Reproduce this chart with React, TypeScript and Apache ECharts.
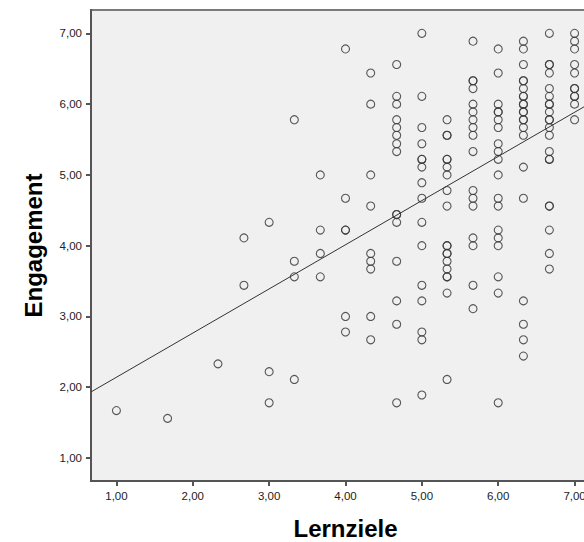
import React, { useEffect, useRef } from "react";
import * as echarts from "echarts";

// Lernziele levels (x) and the Engagement values (y) observed at each level
const lernzieleLevels = [1.0, 1.67, 2.33, 2.67, 3.0, 3.33, 3.67, 4.0, 4.33, 4.67, 5.0, 5.33, 5.67, 6.0, 6.33, 6.67, 7.0];

const engagementAt100 = [1.67];
const engagementAt167 = [1.56];
const engagementAt233 = [2.33];
const engagementAt267 = [4.11, 3.44];
const engagementAt300 = [4.33, 2.22, 1.78];
const engagementAt333 = [5.78, 3.78, 3.56, 2.11];
const engagementAt367 = [5.0, 4.22, 3.89, 3.56];
const engagementAt400 = [6.78, 4.67, 4.22, 4.22, 3.0, 2.78];
const engagementAt433 = [6.44, 6.0, 5.0, 4.56, 3.89, 3.78, 3.67, 3.0, 2.67];
const engagementAt467 = [6.56, 6.11, 6.0, 5.78, 5.67, 5.56, 5.44, 5.33, 4.44, 4.44, 4.33, 3.78, 3.22, 2.89, 1.78];
const engagementAt500 = [7.0, 6.11, 5.67, 5.44, 5.22, 5.22, 5.11, 4.89, 4.67, 4.33, 4.0, 3.44, 3.22, 2.78, 2.67, 1.89];
const engagementAt533 = [5.78, 5.56, 5.56, 5.22, 5.22, 5.11, 5.0, 4.78, 4.56, 4.0, 4.0, 3.89, 3.89, 3.78, 3.67, 3.56, 3.56, 3.33, 2.11];
const engagementAt567 = [6.89, 6.33, 6.33, 6.22, 6.0, 5.89, 5.78, 5.67, 5.56, 5.33, 4.78, 4.67, 4.56, 4.11, 4.0, 3.44, 3.11];
const engagementAt600 = [6.78, 6.44, 6.0, 5.89, 5.89, 5.78, 5.67, 5.44, 5.33, 5.22, 5.0, 4.67, 4.56, 4.22, 4.11, 4.0, 3.56, 3.33, 1.78];
const engagementAt633 = [6.89, 6.78, 6.56, 6.33, 6.33, 6.22, 6.11, 6.11, 6.0, 6.0, 5.89, 5.89, 5.78, 5.78, 5.67, 5.56, 5.11, 4.67, 3.22, 2.89, 2.67, 2.44];
const engagementAt667 = [7.0, 6.56, 6.56, 6.44, 6.22, 6.11, 6.0, 6.0, 5.89, 5.78, 5.78, 5.67, 5.56, 5.33, 5.22, 5.22, 4.56, 4.56, 4.22, 3.89, 3.67];
const engagementAt700 = [7.0, 6.89, 6.78, 6.56, 6.44, 6.22, 6.22, 6.11, 6.11, 6.0, 5.78];

const engagementByLevel = [
  engagementAt100, engagementAt167, engagementAt233, engagementAt267, engagementAt300,
  engagementAt333, engagementAt367, engagementAt400, engagementAt433, engagementAt467,
  engagementAt500, engagementAt533, engagementAt567, engagementAt600, engagementAt633,
  engagementAt667, engagementAt700,
];

// Linear fit line
const fitIntercept = 1.517;
const fitSlope = 0.624;

// Tick values
const xTicks = [1, 2, 3, 4, 5, 6, 7];
const yTicks = [1, 2, 3, 4, 5, 6, 7];

const xMin = 0.667;
const xMax = 7.333;
const yMin = 0.675;
const yMax = 7.33;

const fmt = (v: number) => v.toFixed(2).replace(".", ",");

export default function App() {
  const ref = useRef<HTMLDivElement>(null);

  useEffect(() => {
    if (!ref.current) return;
    const chart = echarts.init(ref.current, null, { renderer: "svg" });

    const points: number[][] = [];
    lernzieleLevels.forEach((x, i) => {
      engagementByLevel[i].forEach((y) => points.push([x, y]));
    });
    const fitLine = [
      [xMin, fitIntercept + fitSlope * xMin],
      [xMax, fitIntercept + fitSlope * xMax],
    ];

    const axisColor = "#555555";
    const font = "'Liberation Sans', Arial, Helvetica, sans-serif";

    chart.setOption({
      animation: false,
      textStyle: { fontFamily: font },
      grid: {
        left: 91,
        top: 10,
        width: 509,
        height: 471,
        show: true,
        backgroundColor: "#f0f0f0",
        borderColor: "#7a7a7a",
        borderWidth: 2,
        containLabel: false,
        outerBoundsMode: "none",
      },
      xAxis: {
        type: "value",
        min: xMin,
        max: xMax,
        name: "Lernziele",
        nameLocation: "middle",
        nameGap: 35,
        nameTextStyle: { fontSize: 24, fontWeight: "bold", color: "#000", fontFamily: font },
        splitLine: { show: false },
        axisLine: { show: true, onZero: false, lineStyle: { color: axisColor, width: 2 } },
        axisTick: { show: true, customValues: xTicks, length: 5, lineStyle: { color: axisColor, width: 2 } },
        axisLabel: { customValues: xTicks, formatter: fmt, fontSize: 11.5, color: "#222", margin: 9, fontFamily: font },
      },
      yAxis: {
        type: "value",
        min: yMin,
        max: yMax,
        name: "Engagement",
        nameLocation: "middle",
        nameGap: 46,
        nameTextStyle: { fontSize: 24, fontWeight: "bold", color: "#000", fontFamily: font },
        splitLine: { show: false },
        axisLine: { show: true, onZero: false, lineStyle: { color: axisColor, width: 2 } },
        axisTick: { show: true, customValues: yTicks, length: 5, lineStyle: { color: axisColor, width: 2 } },
        axisLabel: { customValues: yTicks, formatter: fmt, fontSize: 11.5, color: "#222", margin: 9, fontFamily: font },
      },
      series: [
        {
          type: "scatter",
          data: points,
          symbol: "circle",
          symbolSize: 8,
          itemStyle: { color: "rgba(0,0,0,0)", borderColor: "#3a3a3a", borderWidth: 1.1, opacity: 0.85 },
          emphasis: { disabled: true },
          z: 3,
        },
        {
          type: "line",
          data: fitLine,
          symbol: "none",
          showSymbol: false,
          lineStyle: { color: "#333", width: 1 },
          emphasis: { disabled: true },
          z: 2,
        },
      ],
    });

    return () => chart.dispose();
  }, []);

  return (
    <div
      ref={ref}
      style={{ position: "fixed", left: 0, top: 0, width: 584, height: 542, background: "#fff" }}
    />
  );
}
